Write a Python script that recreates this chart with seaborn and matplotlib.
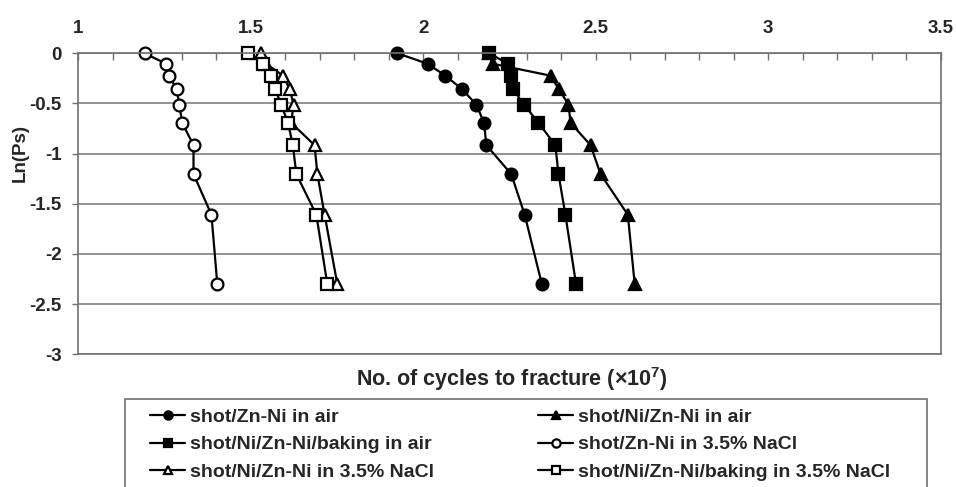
import seaborn as sns
import matplotlib.pyplot as plt
from matplotlib.patches import Rectangle
from matplotlib.ticker import MultipleLocator, FormatStrFormatter

# Ln(Ps) levels shared by every series
ln_ps = [0, -0.105, -0.223, -0.357, -0.511, -0.693, -0.916, -1.204, -1.609, -2.303]

# cycles to fracture (x1e7)
zn_ni_air = [1.925, 2.013, 2.064, 2.112, 2.154, 2.176, 2.183, 2.255, 2.294, 2.344]
ni_zn_ni_air = [2.19, 2.202, 2.369, 2.393, 2.421, 2.427, 2.485, 2.514, 2.593, 2.613]
baking_air = [2.192, 2.245, 2.253, 2.26, 2.292, 2.334, 2.383, 2.392, 2.412, 2.443]
zn_ni_nacl = [1.192, 1.255, 1.263, 1.285, 1.293, 1.301, 1.334, 1.334, 1.386, 1.403]
ni_zn_ni_nacl = [1.530, 1.545, 1.593, 1.613, 1.624, 1.617, 1.685, 1.693, 1.714, 1.751]
baking_nacl = [1.492, 1.535, 1.559, 1.571, 1.588, 1.608, 1.622, 1.632, 1.690, 1.722]

labels = ["shot/Zn-Ni in air", "shot/Ni/Zn-Ni in air",
          "shot/Ni/Zn-Ni/baking in air", "shot/Zn-Ni in 3.5% NaCl",
          "shot/Ni/Zn-Ni in 3.5% NaCl", "shot/Ni/Zn-Ni/baking in 3.5% NaCl"]

sns.set_theme(style="white")
plt.rcParams["font.family"] = ["Liberation Sans", "DejaVu Sans"]
plt.rcParams["font.weight"] = "bold"
plt.rcParams["axes.unicode_minus"] = False
plt.rcParams["mathtext.fontset"] = "custom"
plt.rcParams["mathtext.rm"] = "Liberation Sans"
plt.rcParams["mathtext.bf"] = "Liberation Sans:bold"

fig = plt.figure(figsize=(9.56, 4.87), dpi=100)
ax = fig.add_axes([0.0819, 0.2725, 0.9021, 0.6181])

series = [
    (ni_zn_ni_air, "^", "black", labels[1], 9),
    (zn_ni_air, "o", "black", labels[0], 8.5),
    (baking_air, "s", "black", labels[2], 8.5),
    (ni_zn_ni_nacl, "^", "white", labels[4], 9),
    (zn_ni_nacl, "o", "white", labels[3], 8.5),
    (baking_nacl, "s", "white", labels[5], 8.5),
]
lines = {}
for xs, mk, fc, lab, ms in series:
    sns.lineplot(x=xs, y=ln_ps, ax=ax, estimator=None, sort=False,
                 color="black", linewidth=1.6, marker=mk, markersize=ms,
                 markerfacecolor=fc, markeredgecolor="black",
                 markeredgewidth=1.6, clip_on=False, label=lab)
    lines[lab] = ax.lines[-1]
if ax.get_legend():
    ax.get_legend().remove()

ax.set_xlim(1, 3.5)
ax.set_ylim(-3, 0)
ax.xaxis.tick_top()
ax.xaxis.set_major_locator(MultipleLocator(0.5))
ax.xaxis.set_minor_locator(MultipleLocator(0.1))
ax.xaxis.set_major_formatter(FormatStrFormatter("%g"))
ax.yaxis.set_major_locator(MultipleLocator(0.5))
ax.yaxis.set_major_formatter(FormatStrFormatter("%g"))
ax.tick_params(axis="x", which="both", direction="in", length=5, width=1,
               color="#707070", pad=12, labelsize=13.5, top=True, bottom=False)
ax.tick_params(axis="y", direction="out", length=4, width=1, color="#707070",
               pad=8, labelsize=13.5, left=True)
for t in ax.get_xticklabels() + ax.get_yticklabels():
    t.set_fontweight("bold")

ax.yaxis.grid(True, color="#808080", linewidth=1.2)
for s in ax.spines.values():
    s.set_color("#707070")
    s.set_linewidth(1.2)

ax.set_xlabel("No. of cycles to fracture (×10$^\\mathbf{7}$)", fontsize=15.5,
              fontweight="bold")
ax.xaxis.set_label_position("bottom")
ax.xaxis.set_label_coords(0.503, -0.037)
ax.xaxis.label.set_va("top")
ax.set_ylabel("Ln(Ps)", fontsize=13.5, fontweight="bold")
ax.yaxis.set_label_coords(-0.058, 0.67)

# legend box runs past the bottom edge of the figure
fig.add_artist(Rectangle((125 / 956, -0.05), (927 - 125) / 956,
                         (1 - 399 / 487) + 0.05, transform=fig.transFigure,
                         facecolor="none", edgecolor="#707070", linewidth=1.2))

# legend, filled column-wise so rows read across
order = [labels[0], labels[2], labels[4], labels[1], labels[3], labels[5]]
fig.legend([lines[l] for l in order], order, ncol=2, loc="upper left",
           bbox_to_anchor=(150 / 956, 1 - 408 / 487), frameon=False,
           prop={"size": 14, "weight": "bold"}, markerscale=0.7,
           handlelength=1.8, handletextpad=0.26, labelspacing=0.52,
           columnspacing=5.35, borderpad=0, borderaxespad=0)

plt.savefig("out.png", dpi=100)
